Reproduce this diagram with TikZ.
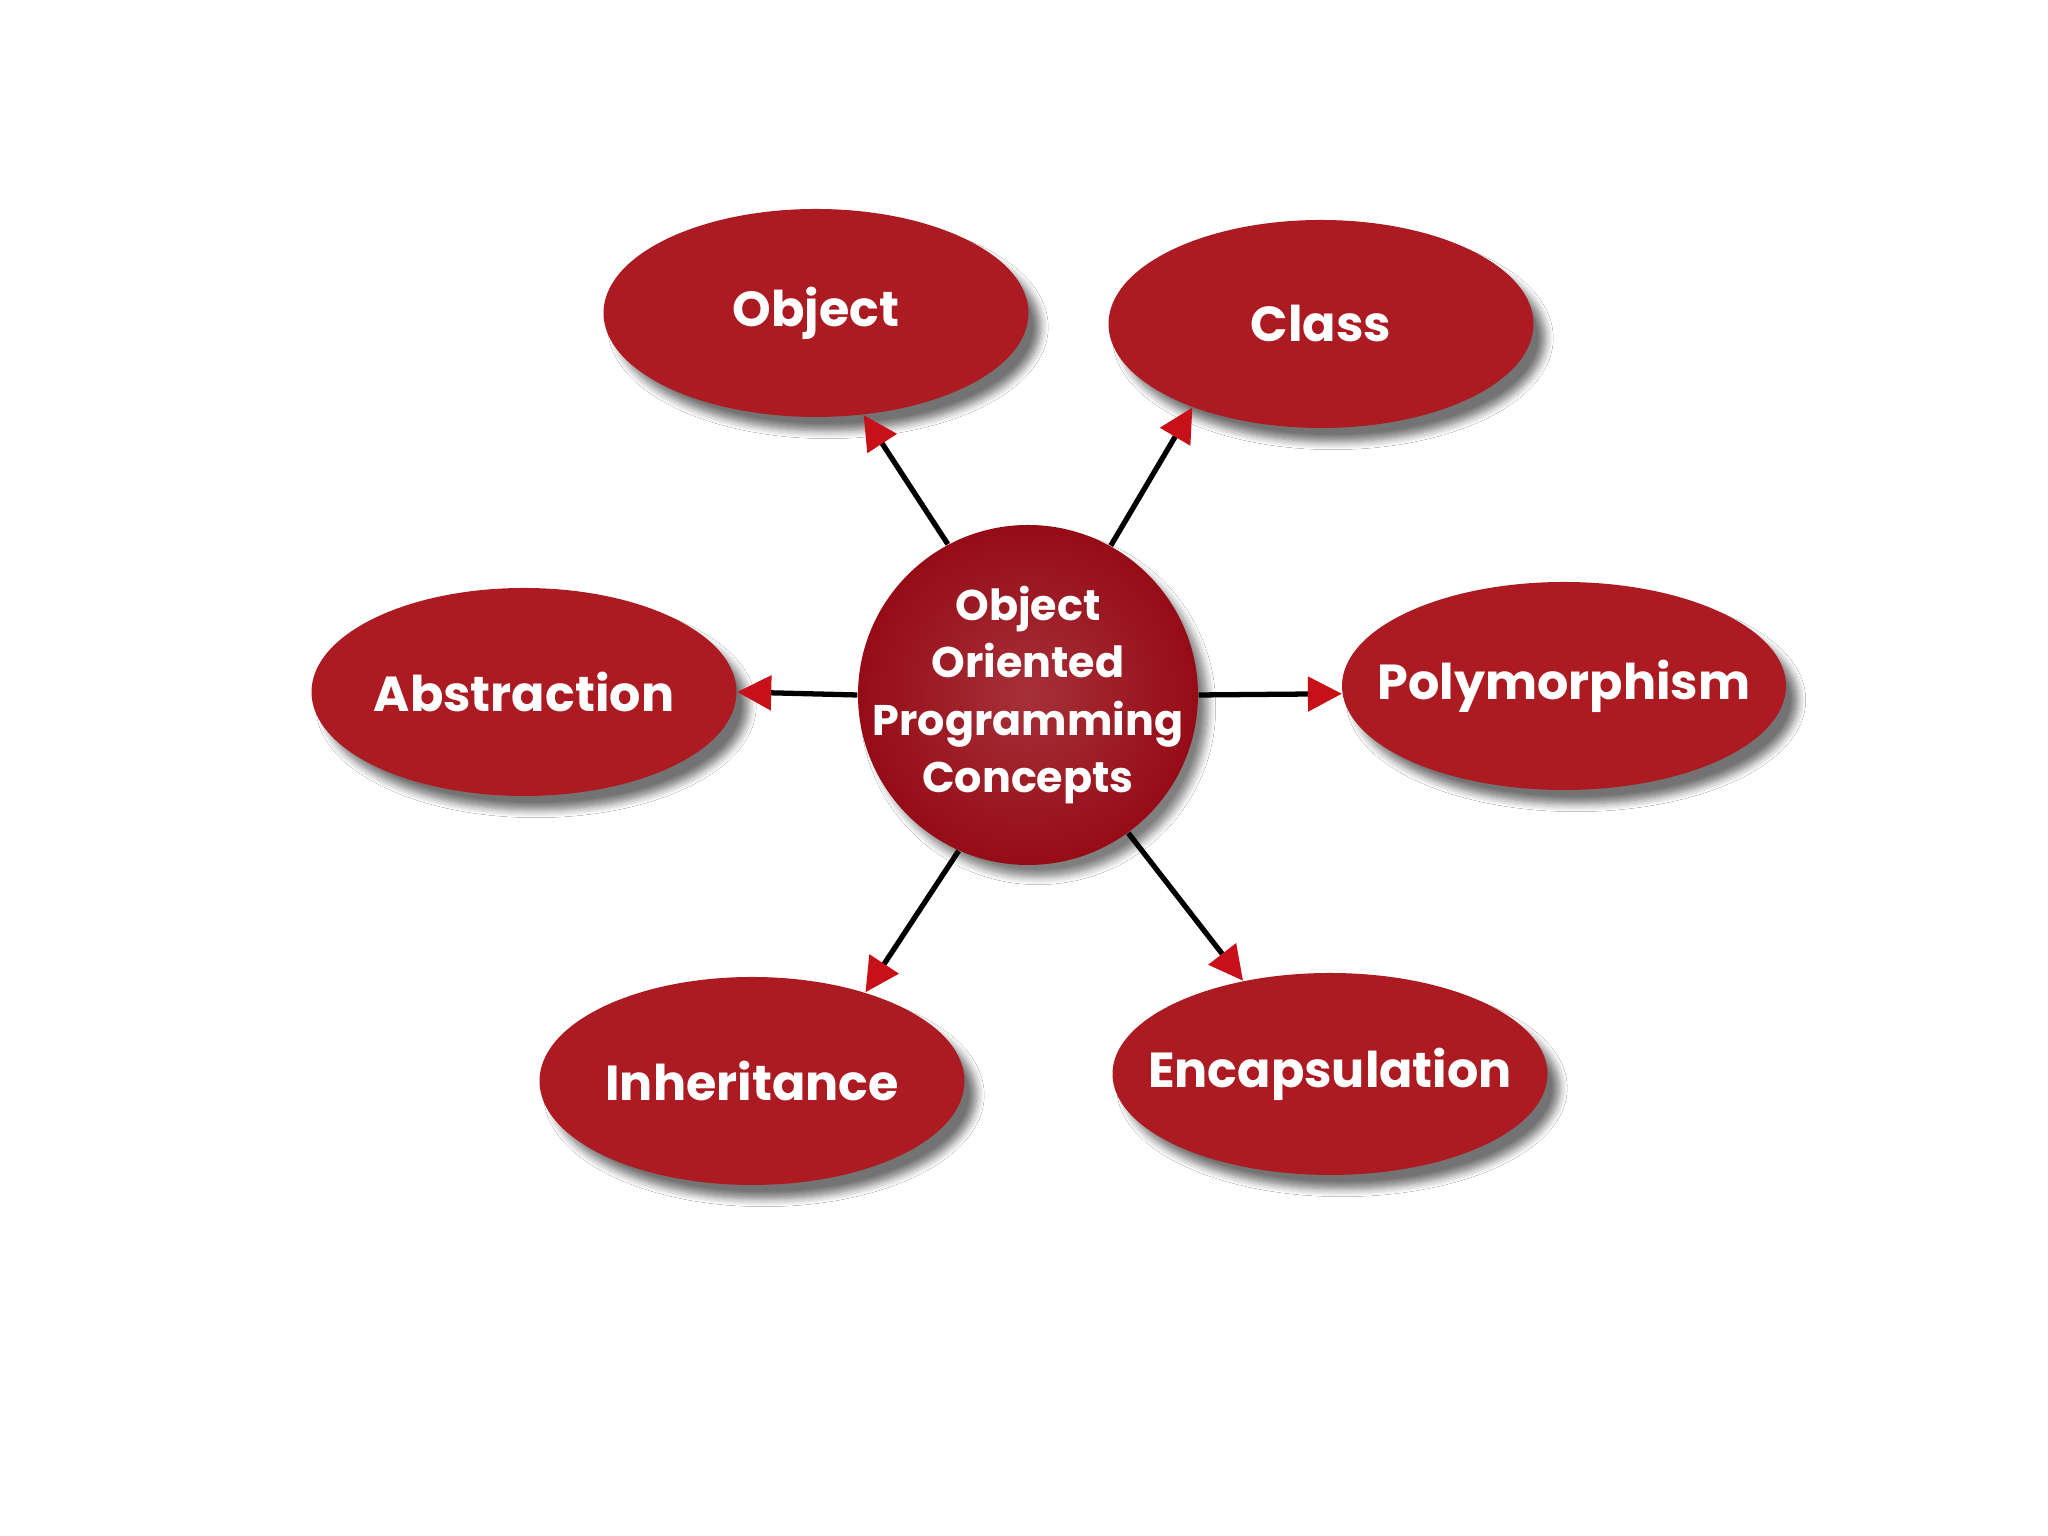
\documentclass[tikz,border=0pt]{standalone}
\usepackage{fontspec}
\setmainfont{Poppins}
\usetikzlibrary{shapes.geometric,arrows.meta,shadows.blur}
\definecolor{ovalred}{RGB}{172,26,34}
\definecolor{hubred}{RGB}{150,12,22}
\definecolor{tipred}{RGB}{200,16,24}
\begin{document}
\begin{tikzpicture}[
  concept/.style={ellipse, fill=ovalred, minimum width=4.25cm, minimum height=2.08cm,
    inner xsep=-1cm, text=white, font=\bfseries\fontsize{14}{17}\selectfont,
    blur shadow={shadow xshift=0.12cm, shadow yshift=-0.14cm, shadow blur steps=8, shadow opacity=55}},
  hub/.style={circle, inner sep=-0.5cm, minimum size=3.4cm, align=center,
    text=white, font=\bfseries\fontsize{12.2}{16.3}\selectfont,
    inner color=hubred!85!white, outer color=hubred,
    blur shadow={shadow xshift=0.1cm, shadow yshift=-0.12cm, shadow blur steps=8, shadow opacity=50}},
  link/.style={line width=1.5pt, -{Triangle[length=0.34cm,width=0.34cm,color=tipred]}}
]
\useasboundingbox[fill=white] (0,0) rectangle (20.48,15.36);
\node[hub] (oop) at (10.28,8.41) {Object\\Oriented\\Programming\\Concepts};
\node[concept] (obj) at (8.16,12.23) {Object};
\node[concept] (cls) at (13.21,12.12) {Class};
\node[concept] (abs) at (5.24,8.44) {Abstraction};
\node[concept, minimum width=4.44cm] (poly) at (15.64,8.50) {Polymorphism};
\node[concept] (inh) at (7.52,4.55) {Inheritance};
\node[concept, minimum width=4.35cm, minimum height=2.02cm] (enc) at (13.30,4.62) {Encapsulation};
\draw[link] (oop.118) -- (obj.295);
\draw[link] (oop.61) -- (cls.213);
\draw[link] (oop.180) -- (abs.0);
\draw[link] (oop.0) -- (poly.182);
\draw[link] (oop.246) -- (inh.38);
\draw[link] (oop.306) -- (enc.133);
\end{tikzpicture}
\end{document}
